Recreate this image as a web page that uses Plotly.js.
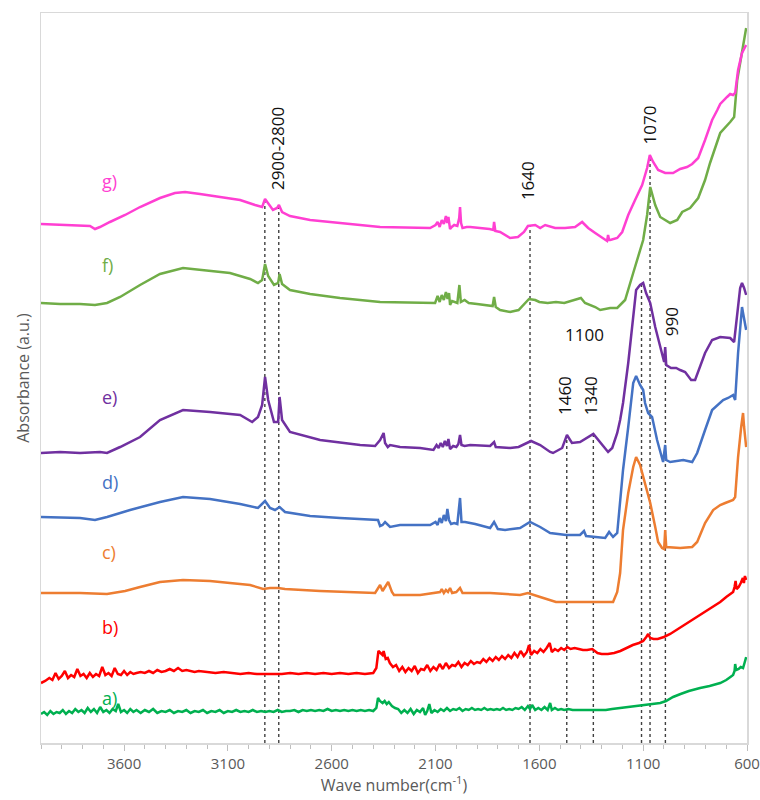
<!DOCTYPE html>
<html>
<head>
<meta charset="utf-8">
<script src="https://cdn.plot.ly/plotly-3.0.1.min.js"></script>
<style>html,body{margin:0;padding:0;background:#fff;}#chart{width:760px;height:800px;}</style>
</head>
<body>
<div id="chart"></div>
<script>
// FTIR spectra: [wavenumber (cm-1), absorbance offset (a.u.)]
const specA = [[4000,29],[3985,31],[3970,28],[3955,32],[3940,29],[3925,31],[3910,30],[3895,33],[3880,29],[3865,32],[3850,30],[3835,34],[3820,31],[3805,33],[3790,30],[3775,35],[3760,31],[3745,34],[3730,30],[3715,36],[3700,31],[3685,33],[3670,30],[3655,34],[3640,32],[3628,39],[3615,31],[3600,33],[3585,30],[3570,34],[3555,31],[3540,33],[3520,30],[3500,33],[3480,31],[3460,34],[3440,30],[3420,32],[3400,31],[3380,33],[3360,30],[3340,32],[3320,31],[3300,33],[3280,30],[3260,32],[3240,31],[3220,33],[3200,30],[3180,32],[3160,31],[3140,33],[3120,30],[3100,32],[3080,31],[3060,33],[3040,31],[3020,32],[3000,31],[2980,33],[2960,31],[2940,32],[2920,31],[2900,32],[2880,31],[2860,33],[2840,31],[2820,32],[2800,32],[2780,33],[2760,31],[2740,33],[2720,32],[2700,33],[2680,32],[2660,33],[2640,32],[2620,34],[2600,32],[2580,33],[2560,32],[2540,33],[2520,32],[2500,33],[2480,32],[2460,33],[2440,32],[2420,33],[2400,32],[2385,35],[2377,45],[2368,42],[2355,40],[2345,42],[2335,39],[2325,41],[2310,37],[2295,35],[2280,34],[2265,30],[2250,33],[2235,30],[2220,34],[2205,29],[2190,33],[2175,31],[2160,35],[2150,28],[2140,32],[2130,39],[2120,30],[2105,33],[2090,31],[2075,34],[2060,32],[2045,35],[2030,32],[2015,34],[2000,33],[1985,35],[1970,32],[1955,34],[1940,33],[1925,35],[1910,33],[1895,34],[1880,33],[1865,35],[1850,33],[1835,34],[1820,33],[1805,34],[1790,33],[1775,35],[1760,33],[1745,34],[1730,33],[1715,35],[1700,34],[1685,36],[1670,33],[1655,37],[1645,34],[1635,38],[1620,33],[1605,35],[1590,33],[1575,36],[1560,33],[1548,40],[1540,33],[1525,35],[1510,33],[1495,34],[1480,33],[1460,34],[1440,33],[1420,33],[1400,33],[1370,33],[1340,33],[1310,33],[1280,33],[1250,34],[1211,35],[1160,36],[1115,37],[1070,38],[1018,40],[990,42],[956,46],[920,49],[880,52],[826,55],[780,57],[729,60],[700,63],[680,66],[667,68],[660,72],[657,79],[652,73],[640,74],[630,76],[619,75],[612,80],[604,86]];

const specB = [[4000,60],[3980,62],[3960,65],[3945,63],[3930,70],[3915,64],[3900,67],[3885,72],[3870,65],[3855,68],[3840,66],[3825,74],[3810,67],[3795,69],[3780,65],[3765,70],[3750,66],[3735,69],[3720,67],[3705,76],[3690,68],[3675,70],[3660,67],[3645,75],[3630,69],[3615,68],[3600,72],[3585,68],[3570,71],[3555,69],[3540,70],[3520,71],[3500,70],[3480,72],[3460,70],[3440,73],[3420,71],[3400,72],[3380,74],[3360,72],[3340,75],[3320,72],[3300,73],[3280,72],[3260,71],[3240,72],[3200,71],[3160,70],[3120,71],[3080,70],[3040,69],[3000,70],[2960,69],[2920,69],[2880,69],[2840,69],[2800,70],[2760,69],[2720,70],[2680,69],[2640,70],[2600,69],[2560,70],[2520,69],[2480,70],[2440,69],[2400,70],[2385,75],[2375,92],[2365,90],[2355,88],[2350,92],[2340,84],[2330,85],[2320,80],[2305,76],[2290,78],[2275,72],[2260,76],[2245,71],[2230,75],[2215,72],[2200,77],[2185,70],[2170,74],[2155,73],[2140,78],[2125,72],[2110,76],[2095,73],[2080,79],[2065,74],[2050,80],[2035,75],[2020,78],[2005,77],[1990,81],[1975,76],[1960,80],[1945,78],[1930,82],[1915,79],[1900,81],[1885,80],[1870,84],[1855,81],[1840,85],[1825,82],[1810,86],[1795,83],[1780,87],[1765,84],[1750,88],[1735,85],[1720,90],[1705,86],[1690,92],[1675,87],[1660,91],[1650,98],[1640,88],[1625,92],[1610,90],[1595,94],[1580,91],[1565,95],[1550,100],[1540,91],[1525,94],[1510,92],[1495,95],[1480,93],[1465,96],[1450,94],[1430,95],[1410,94],[1390,93],[1370,93],[1345,94],[1320,90],[1300,89],[1270,89],[1240,90],[1210,92],[1180,95],[1150,98],[1120,100],[1100,102],[1085,106],[1076,109],[1066,105],[1050,104],[1030,104],[1000,106],[970,109],[940,113],[900,118],[860,123],[826,128],[790,133],[760,137],[729,141],[700,146],[680,149],[667,151],[660,156],[655,162],[650,154],[640,156],[630,160],[620,165],[615,160],[610,167],[604,163]];

const specC = [[4000,150],[3812,150],[3682,149],[3595,152],[3523,156],[3427,161],[3316,163],[3186,162],[3090,160],[2993,158],[2930,154],[2897,155],[2858,155],[2825,154],[2656,152],[2391,150],[2367,158],[2355,152],[2328,161],[2310,151],[2300,148],[2174,148],[2078,151],[2070,154],[2060,150],[2050,153],[2040,151],[2030,155],[2020,150],[2000,151],[1982,155],[1970,150],[1933,150],[1837,150],[1693,148],[1655,150],[1596,146],[1548,143],[1520,141],[1480,141],[1400,141],[1307,141],[1245,141],[1225,151],[1211,170],[1197,213],[1172,250],[1148,276],[1134,286],[1115,278],[1091,260],[1066,240],[1042,216],[1028,201],[1009,195],[999,194],[994,213],[989,196],[922,195],[864,196],[840,201],[802,220],[763,233],[729,238],[705,240],[667,243],[657,246],[643,286],[628,316],[619,330],[614,316],[604,296]];

const specD = [[4000,226],[3812,225],[3740,223],[3682,226],[3571,233],[3427,241],[3316,246],[3186,244],[3041,239],[2955,235],[2921,242],[2897,235],[2873,233],[2851,236],[2825,231],[2704,227],[2560,225],[2377,223],[2367,217],[2355,218],[2343,221],[2319,216],[2271,218],[2126,218],[2100,221],[2090,218],[2080,225],[2070,220],[2060,228],[2050,222],[2043,234],[2035,223],[2025,219],[2010,220],[1995,219],[1982,245],[1975,221],[1958,221],[1909,219],[1837,215],[1818,221],[1800,214],[1765,213],[1693,215],[1645,221],[1596,216],[1548,210],[1471,208],[1404,208],[1385,212],[1375,207],[1340,206],[1283,205],[1264,211],[1245,206],[1225,210],[1211,240],[1197,273],[1172,316],[1148,360],[1134,367],[1115,358],[1100,353],[1091,340],[1076,330],[1057,326],[1033,303],[1009,285],[1004,281],[994,298],[989,283],[970,281],[907,283],[864,281],[840,290],[802,313],[768,333],[715,343],[691,345],[667,348],[657,343],[643,390],[624,436],[619,430],[604,413]];

const specE = [[4000,290],[3908,291],[3812,290],[3716,291],[3682,290],[3619,296],[3523,306],[3427,323],[3316,333],[3186,331],[3041,328],[2983,321],[2955,326],[2935,338],[2921,366],[2906,343],[2878,321],[2858,321],[2851,346],[2839,323],[2801,311],[2656,303],[2463,298],[2391,297],[2367,303],[2355,307],[2350,310],[2343,300],[2330,296],[2319,298],[2271,296],[2174,295],[2110,293],[2095,298],[2085,295],[2075,300],[2065,296],[2055,302],[2045,297],[2038,304],[2030,294],[2015,297],[2000,296],[1990,299],[1982,308],[1975,298],[1960,297],[1933,298],[1837,297],[1818,301],[1810,296],[1741,295],[1700,296],[1640,302],[1596,298],[1548,291],[1534,290],[1490,295],[1467,308],[1443,300],[1404,301],[1340,309],[1317,303],[1283,295],[1269,291],[1249,295],[1225,310],[1211,323],[1197,340],[1172,380],[1148,423],[1134,453],[1115,458],[1100,460],[1086,450],[1066,440],[1042,416],[1018,396],[999,381],[994,396],[989,378],[966,375],[941,375],[922,373],[898,371],[869,363],[850,363],[802,390],[768,403],[729,406],[681,405],[662,401],[647,430],[633,455],[624,460],[614,455],[604,448]];

const specF = [[4000,440],[3908,439],[3812,439],[3740,438],[3682,440],[3619,446],[3523,458],[3427,469],[3316,475],[3234,473],[3090,470],[2993,464],[2955,460],[2935,463],[2921,479],[2906,467],[2878,458],[2858,460],[2851,469],[2839,459],[2801,453],[2704,449],[2560,445],[2367,441],[2102,440],[2090,447],[2080,441],[2070,448],[2060,443],[2050,451],[2042,444],[2035,450],[2030,438],[2020,442],[2005,441],[1995,440],[1985,458],[1978,441],[1960,443],[1940,440],[1900,439],[1860,438],[1825,437],[1818,446],[1810,436],[1789,433],[1741,431],[1700,433],[1670,439],[1650,444],[1620,443],[1600,441],[1560,440],[1520,441],[1480,440],[1450,442],[1400,445],[1380,440],[1331,436],[1307,433],[1283,434],[1259,435],[1225,435],[1187,443],[1148,470],[1100,503],[1081,528],[1066,556],[1042,538],[1018,526],[970,520],[936,523],[912,531],[874,535],[835,545],[802,563],[778,580],[729,610],[681,621],[662,626],[647,663],[624,693],[604,715]];

const specG = [[4000,519],[3908,518],[3812,517],[3764,517],[3740,514],[3716,516],[3668,521],[3595,528],[3523,536],[3427,545],[3355,550],[3306,551],[3234,549],[3138,546],[3041,543],[2969,538],[2935,536],[2921,544],[2906,540],[2883,533],[2863,535],[2854,538],[2839,531],[2801,527],[2704,523],[2560,520],[2367,516],[2126,515],[2100,518],[2090,521],[2080,516],[2070,523],[2060,519],[2050,527],[2044,520],[2038,526],[2030,514],[2022,516],[2010,518],[1995,517],[1986,525],[1982,536],[1977,520],[1970,515],[1950,516],[1933,516],[1880,515],[1840,514],[1822,513],[1818,521],[1812,512],[1789,511],[1741,505],[1703,506],[1674,511],[1655,517],[1620,518],[1596,515],[1572,518],[1524,515],[1476,515],[1428,516],[1394,521],[1380,518],[1365,515],[1331,510],[1293,505],[1274,502],[1269,508],[1264,503],[1259,503],[1225,505],[1201,511],[1172,528],[1139,543],[1105,558],[1081,575],[1068,588],[1052,581],[1028,573],[994,570],[956,570],[922,574],[889,576],[864,579],[835,585],[802,603],[768,623],[743,633],[729,639],[696,646],[681,649],[667,648],[657,650],[643,673],[624,690],[604,698]];

const seriesNames = ['a)', 'b)', 'c)', 'd)', 'e)', 'f)', 'g)'];
const seriesColors = ['#00B050', '#FF0000', '#ED7D31', '#4472C4', '#7030A0', '#70AD47', '#FF3FD2'];
const seriesData = [specA, specB, specC, specD, specE, specF, specG];
const labelY = [45, 116, 191, 261, 346, 478, 562];
const labelX = 3716;

// dotted band markers
const peakPositions = [2922, 2855, 1645, 1468, 1340, 1108, 1067, 993];
const peakLineTops = [544, 538, 517, 303, 308, 458, 588, 396];

// band labels
const bandTexts = ['2900-2800', '1640', '1070', '1460', '1340', '990', '1100'];
const bandX = [2863, 1659, 1070, 1481, 1355, 965, 1384];
const bandY = [594, 562, 618, 347, 347, 421, 409];
const bandAngle = [-90, -90, -90, -90, -90, -90, 0];

const traces = [];
peakPositions.forEach((p, i) => {
  traces.push({
    x: [p, p], y: [0, peakLineTops[i]], mode: 'lines', type: 'scatter',
    line: {color: '#404040', width: 1.4, dash: 'dot'}, hoverinfo: 'skip', showlegend: false
  });
});
seriesData.forEach((s, i) => {
  traces.push({
    x: s.map(d => d[0]), y: s.map(d => d[1]), mode: 'lines', type: 'scatter',
    name: seriesNames[i], line: {color: seriesColors[i], width: 2.5},
    showlegend: false
  });
});

const annotations = [];
seriesNames.forEach((n, i) => {
  annotations.push({x: labelX, y: labelY[i], xref: 'x', yref: 'y', text: n, showarrow: false,
    xanchor: 'left', yanchor: 'middle', font: {family: 'Open Sans, sans-serif', size: 18, color: seriesColors[i]}});
});
bandTexts.forEach((t, i) => {
  annotations.push({x: bandX[i], y: bandY[i], xref: 'x', yref: 'y', text: t, showarrow: false,
    textangle: bandAngle[i], xanchor: 'center', yanchor: 'middle',
    font: {family: 'Open Sans, sans-serif', size: 17, color: '#111111'}});
});

const layout = {
  width: 760, height: 800,
  margin: {l: 41, r: 13, t: 13, b: 57},
  paper_bgcolor: '#ffffff', plot_bgcolor: '#ffffff',
  showlegend: false,
  xaxis: {
    range: [4000, 600], tick0: 600, dtick: 500, ticks: 'outside', ticklen: 6, tickcolor: '#BFBFBF',
    minor: {dtick: 100, ticks: 'outside', ticklen: 4, tickcolor: '#BFBFBF', showgrid: false},
    showgrid: false, zeroline: false, showline: true, linecolor: '#D9D9D9', linewidth: 1.5, mirror: true,
    tickfont: {family: 'Open Sans, sans-serif', size: 15, color: '#595959'},
    title: {text: 'Wave number(cm<sup>-1</sup>)', font: {family: 'Open Sans, sans-serif', size: 16, color: '#595959'}, standoff: 8}
  },
  yaxis: {
    range: [0, 730], showticklabels: false, ticks: '', showgrid: false, zeroline: false,
    showline: true, linecolor: '#D9D9D9', linewidth: 1.5, mirror: true,
    title: {text: 'Absorbance (a.u.)', font: {family: 'Open Sans, sans-serif', size: 16, color: '#595959'}, standoff: 6}
  },
  annotations: annotations
};

Plotly.newPlot('chart', traces, layout, {staticPlot: true, displayModeBar: false});
</script>
</body>
</html>
